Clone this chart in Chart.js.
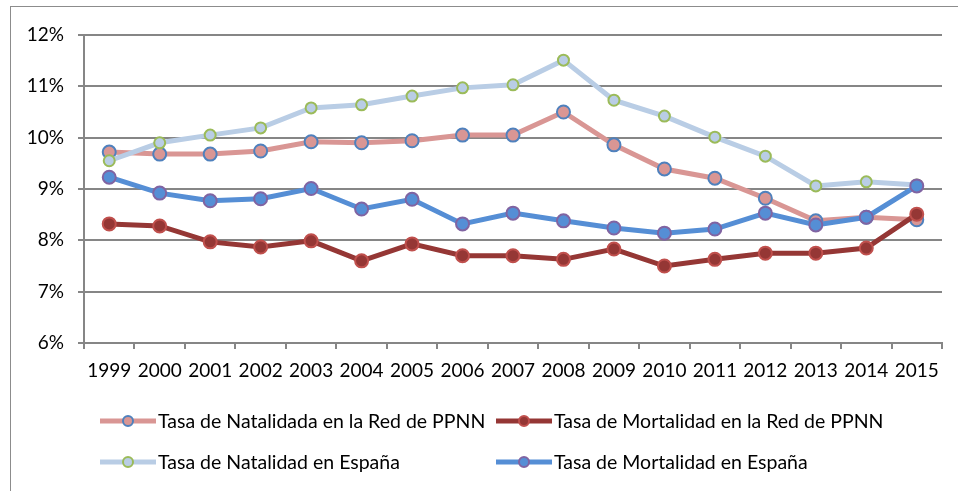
<!DOCTYPE html>
<html>
<head>
<meta charset="utf-8">
<script src="https://cdn.jsdelivr.net/npm/chart.js@4.4.1/dist/chart.umd.min.js"></script>
<style>
  html, body { margin: 0; padding: 0; background: #fff; }
  #wrap { position: relative; width: 958px; height: 491px; overflow: hidden; }
  #frame { position: absolute; left: 10px; top: 6px; width: 960px; height: 500px;
           border: 1px solid #8c8c8c; box-sizing: border-box; }
  canvas { position: absolute; left: 0; top: 0; }
</style>
</head>
<body>
<div id="wrap">
  <div id="frame"></div>
  <canvas id="chart" width="958" height="491"></canvas>
</div>
<script>
// years on the x axis
const years = ['1999','2000','2001','2002','2003','2004','2005','2006','2007','2008',
               '2009','2010','2011','2012','2013','2014','2015'];

// rates in %
const natalidadRed = [9.72, 9.68, 9.68, 9.74, 9.92, 9.90, 9.94, 10.05, 10.05, 10.50,
                      9.86, 9.39, 9.21, 8.82, 8.38, 8.45, 8.40];
const mortalidadRed = [8.32, 8.28, 7.97, 7.87, 7.99, 7.60, 7.93, 7.70, 7.70, 7.63,
                       7.83, 7.50, 7.63, 7.75, 7.75, 7.85, 8.51];
const natalidadEsp = [9.55, 9.90, 10.05, 10.19, 10.58, 10.64, 10.81, 10.97, 11.03, 11.51,
                      10.73, 10.42, 10.01, 9.64, 9.06, 9.14, 9.08];
const mortalidadEsp = [9.23, 8.92, 8.77, 8.81, 9.01, 8.61, 8.80, 8.32, 8.53, 8.38,
                       8.24, 8.14, 8.22, 8.53, 8.30, 8.45, 9.06];

const yTicks = [6, 7, 8, 9, 10, 11, 12];

const FONT = 'Lato, "Open Sans", sans-serif';

function series(label, data, line, fill, edge, r, order) {
  return {
    label: label,
    data: data,
    borderColor: line,
    backgroundColor: line,
    borderWidth: 5,
    pointRadius: r,
    pointHoverRadius: r,
    pointBackgroundColor: fill,
    pointBorderColor: edge,
    pointBorderWidth: 2,
    tension: 0,
    order: order // later Excel series sit on top
  };
}

// legend drawn by hand: two columns, line sample with marker
const legendPlugin = {
  id: 'excelLegend',
  afterDraw(chart) {
    const ctx = chart.ctx;
    const cols = [100, 496];
    const rows = [421, 462];
    chart.data.datasets.forEach((ds, i) => {
      const x = cols[i % 2];
      const y = rows[Math.floor(i / 2)];
      ctx.save();
      ctx.strokeStyle = ds.borderColor;
      ctx.lineWidth = 5;
      ctx.beginPath();
      ctx.moveTo(x, y);
      ctx.lineTo(x + 56, y);
      ctx.stroke();
      ctx.beginPath();
      ctx.arc(x + 28, y, 5, 0, Math.PI * 2);
      ctx.fillStyle = ds.pointBackgroundColor;
      ctx.fill();
      ctx.lineWidth = 2;
      ctx.strokeStyle = ds.pointBorderColor;
      ctx.stroke();
      ctx.fillStyle = '#000';
      ctx.font = '19.5px ' + FONT;
      ctx.textBaseline = 'middle';
      ctx.fillText(ds.label, x + 58, y + 1);
      ctx.restore();
    });
  }
};

new Chart(document.getElementById('chart'), {
  type: 'line',
  data: {
    labels: years,
    datasets: [
      series('Tasa de Natalidada en la Red de PPNN', natalidadRed, '#d99694', '#d99694', '#4f81bd', 6.5, 4),
      series('Tasa de Mortalidad en la Red de PPNN', mortalidadRed, '#953735', '#953735', '#c0504d', 6.5, 3),
      series('Tasa de Natalidad en España', natalidadEsp, '#b9cde5', '#b9cde5', '#9bbb59', 5.5, 2),
      series('Tasa de Mortalidad en España', mortalidadEsp, '#558ed5', '#558ed5', '#8064a2', 6.5, 1)
    ]
  },
  options: {
    responsive: false,
    animation: false,
    events: [],
    layout: { padding: { left: 0, top: 35, right: 16, bottom: 108 } },
    plugins: {
      legend: { display: false },
      tooltip: { enabled: false }
    },
    scales: {
      x: {
        offset: true,
        grid: {
          offset: true,
          drawOnChartArea: false,
          drawTicks: true,
          tickLength: 6,
          color: '#868686',
          lineWidth: 2
        },
        border: { display: true, color: '#868686', width: 2 },
        ticks: { color: '#000', font: { family: FONT, size: 19 }, padding: 10, maxRotation: 0, autoSkip: false },
        afterFit: s => { s.height = 40; }
      },
      y: {
        min: yTicks[0],
        max: yTicks[yTicks.length - 1],
        afterBuildTicks: s => { s.ticks = yTicks.map(v => ({ value: v })); },
        grid: { color: '#868686', lineWidth: 2, tickLength: 6 },
        border: { display: true, color: '#868686', width: 2 },
        ticks: {
          color: '#000',
          font: { family: FONT, size: 19 },
          padding: 14,
          callback: v => v + '%'
        },
        afterFit: s => { s.width = 84; }
      }
    }
  },
  plugins: [legendPlugin]
});
</script>
</body>
</html>
